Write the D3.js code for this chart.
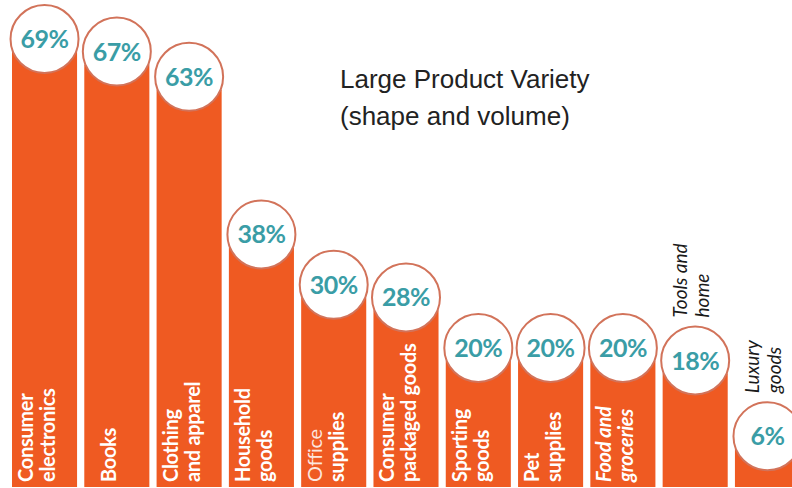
<!DOCTYPE html>
<html><head><meta charset="utf-8">
<script src="https://cdnjs.cloudflare.com/ajax/libs/d3/7.8.5/d3.min.js"></script>
<style>html,body{margin:0;padding:0;background:#fff;}svg{display:block;}</style>
</head><body>
<svg id="chart" width="792" height="488"></svg>
<script>
const categories = ["Consumer electronics","Books","Clothing and apparel","Household goods","Office supplies","Consumer packaged goods","Sporting goods","Pet supplies","Food and groceries","Tools and home","Luxury goods"];
const labelLines = [["Consumer","electronics"],["Books"],["Clothing","and apparel"],["Household","goods"],["Office","supplies"],["Consumer","packaged goods"],["Sporting","goods"],["Pet","supplies"],["Food and","groceries"],["Tools and","home"],["Luxury","goods"]];
const values = [69,67,63,38,30,28,20,20,20,18,6];
const outsideLabel = [false,false,false,false,false,false,false,false,false,true,true];
const titleLines = ["Large Product Variety","(shape and volume)"];

const svg = d3.select("#chart");
const x = d3.scaleBand().domain(categories).range([12, 800]).paddingInner(0.1).paddingOuter(0);
const y = d3.scaleLinear().domain([0, 69]).range([487, 52]);

const barColor = "#EF5A22";
const g = svg.append("g");

g.selectAll("rect.bar").data(categories).join("rect")
  .attr("class","bar")
  .attr("x", d => x(d))
  .attr("y", (d,i) => y(values[i]))
  .attr("width", x.bandwidth())
  .attr("height", (d,i) => y(0) - y(values[i]))
  .attr("fill", barColor);

// category labels
categories.forEach((c,i) => {
  const lines = labelLines[i];
  const bx = x(c);
  if (!outsideLabel[i]) {
    lines.forEach((ln, j) => {
      const tx = lines.length === 1 ? bx + 32 : bx + 21 + j*22;
      g.append("text")
        .attr("transform", `translate(${tx},482) rotate(-90)`)
        .attr("text-anchor","start")
        .attr("font-family","Lato, 'Open Sans', sans-serif")
        .attr("font-weight", (i===4 && j===0) ? 400 : 700)
        .attr("font-style", (i===8) ? "italic" : "normal")
        .attr("font-size", 20)
        .attr("letter-spacing", -0.3)
        .attr("fill","#fff")
        .attr("opacity", (i===4 && j===0) ? 0.85 : 1)
        .text(ln);
    });
  } else {
    const cy = y(values[i]) - 12;
    const baseY = cy - 34 - 10;
    lines.forEach((ln, j) => {
      const tx = bx + 24 + j*22;
      g.append("text")
        .attr("transform", `translate(${tx},${baseY}) rotate(-90)`)
        .attr("text-anchor","start")
        .attr("font-family","Lato, 'Open Sans', sans-serif")
        .attr("font-style","italic")
        .attr("font-size", 19)
        .attr("fill","#1a1a1a")
        .text(ln);
    });
  }
});

// value circles
const circ = g.selectAll("g.val").data(categories).join("g")
  .attr("class","val")
  .attr("transform", (d,i) => `translate(${x(d) + x.bandwidth()/2},${y(values[i]) - 13})`);
circ.append("circle").attr("r", 34).attr("fill","#fff").attr("stroke","#D2735A").attr("stroke-width",2);
circ.append("text")
  .attr("text-anchor","middle").attr("dy","0.36em")
  .attr("font-family","Lato, 'Open Sans', sans-serif")
  .attr("font-weight",700).attr("font-size",25)
  .attr("letter-spacing", -0.5)
  .attr("fill","#3A9DA6")
  .text((d,i) => values[i] + "%");

// title
titleLines.forEach((t,i) => {
  svg.append("text").attr("x",340).attr("y",88 + i*37)
    .attr("font-family","'Liberation Sans', Arial, sans-serif")
    .attr("font-size",26).attr("fill","#222").text(t);
});
</script>
</body></html>
